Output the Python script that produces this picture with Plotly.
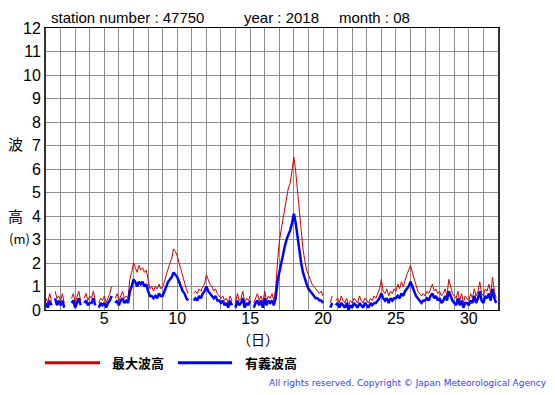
import plotly.graph_objects as go

# 3-hourly readings (00,03,...,21 h) for each day of August 2018
hours = [0, 3, 6, 9, 12, 15, 18, 21]
days = list(range(1, 32))

max_wave = [  # 最大波高 (m)
    [0.5, 0.3, 0.7, 0.4, None, 0.8, 0.5, 0.6],
    [0.4, 0.7, 0.3, None, None, None, 0.5, 0.7],
    [0.3, 0.6, 0.8, 0.4, None, 0.5, 0.7, 0.4],
    [0.6, 0.5, 0.8, 0.4, None, 0.3, 0.5, 0.4],
    [0.6, 0.3, 0.5, 0.7, 1.0, None, 0.5, 0.7],
    [0.4, 0.6, 0.8, 0.5, 0.6, 0.5, 1.3, 1.6],
    [2.0, 1.8, 1.6, 1.9, 1.7, 1.8, 1.6, 1.7],
    [1.2, 0.9, 1.0, 0.8, 1.0, 0.9, 1.1, 0.9],
    [1.0, 1.2, 1.5, 1.8, 2.0, 2.2, 2.6, 2.5],
    [2.3, 2.0, 1.7, 1.4, 1.1, 0.9, 0.7, None],
    [None, 0.7, 0.8, 0.7, 0.9, 0.8, 1.0, 1.1],
    [1.5, 1.3, 1.1, 1.0, 0.8, 0.9, 0.7, 0.6],
    [0.5, 0.6, 0.4, 0.5, 0.3, 0.6, 0.4, None],
    [0.3, 0.7, 0.4, 0.5, 0.8, 0.3, 0.5, 0.4],
    [0.6, None, 0.3, 0.5, 0.7, 0.4, 0.6, 0.3],
    [0.8, 0.4, 0.6, 0.5, 0.7, 0.4, 0.9, 2.0],
    [2.9, 3.4, 3.9, 4.4, 4.8, 5.2, 5.4, 5.9],
    [6.5, 5.9, 5.0, 4.1, 3.4, 2.6, 2.1, 1.7],
    [1.5, 1.3, 1.1, 1.0, 0.9, 0.8, 0.7, 0.8],
    [0.6, None, None, None, 0.3, 0.6, None, 0.4],
    [0.5, 0.3, 0.6, 0.4, 0.3, 0.5, 0.2, 0.4],
    [0.3, 0.5, 0.4, 0.3, 0.6, 0.4, 0.3, 0.5],
    [0.4, 0.3, 0.5, 0.4, 0.6, 0.5, 0.7, 0.9],
    [1.3, 0.8, 0.7, 0.9, 0.6, 0.8, 0.7, 0.9],
    [0.8, 1.1, 0.9, 1.2, 1.0, 1.3, 1.5, 1.7],
    [1.9, 1.6, 1.3, 1.0, 0.8, 0.7, 0.6, 0.7],
    [0.6, 0.8, 0.7, 0.9, 1.1, 0.8, 0.9, 0.7],
    [0.8, 0.6, 0.7, 0.9, 0.6, 1.3, 1.0, 0.7],
    [0.6, 0.5, 0.8, 0.4, 0.7, 0.3, 0.6, 0.5],
    [0.4, 0.7, 0.5, 0.9, 0.6, 0.8, 1.2, 0.7],
    [0.6, 0.9, 0.8, 1.1, 0.7, 1.4, 0.8, 0.5],
]

sig_wave = [  # 有義波高 (m)
    [0.3, 0.1, 0.4, 0.2, None, 0.5, 0.2, 0.4],
    [0.2, 0.4, 0.1, None, None, None, 0.3, 0.4],
    [0.1, 0.3, 0.5, 0.2, None, 0.3, 0.4, 0.2],
    [0.3, 0.3, 0.5, 0.2, None, 0.1, 0.3, 0.2],
    [0.3, 0.1, 0.3, 0.4, 0.6, None, 0.3, 0.4],
    [0.2, 0.4, 0.5, 0.3, 0.4, 0.3, 0.8, 1.0],
    [1.3, 1.2, 1.0, 1.2, 1.1, 1.2, 1.0, 1.1],
    [0.8, 0.6, 0.6, 0.5, 0.6, 0.5, 0.7, 0.6],
    [0.6, 0.8, 1.0, 1.2, 1.3, 1.4, 1.6, 1.5],
    [1.4, 1.2, 1.0, 0.8, 0.7, 0.5, 0.4, None],
    [None, 0.4, 0.5, 0.4, 0.6, 0.5, 0.7, 0.8],
    [1.0, 0.8, 0.7, 0.6, 0.5, 0.6, 0.4, 0.4],
    [0.3, 0.4, 0.2, 0.3, 0.1, 0.4, 0.2, None],
    [0.1, 0.4, 0.2, 0.3, 0.5, 0.1, 0.3, 0.2],
    [0.4, None, 0.1, 0.3, 0.4, 0.2, 0.4, 0.1],
    [0.5, 0.2, 0.4, 0.3, 0.4, 0.2, 0.5, 1.2],
    [1.6, 2.0, 2.4, 2.7, 3.0, 3.2, 3.4, 3.7],
    [4.1, 3.7, 3.1, 2.5, 2.0, 1.6, 1.3, 1.1],
    [0.9, 0.8, 0.7, 0.6, 0.5, 0.5, 0.4, 0.4],
    [0.3, None, None, None, 0.1, 0.3, None, 0.2],
    [0.3, 0.1, 0.3, 0.2, 0.1, 0.3, 0.0, 0.2],
    [0.1, 0.3, 0.2, 0.1, 0.3, 0.2, 0.1, 0.3],
    [0.2, 0.1, 0.3, 0.2, 0.3, 0.3, 0.4, 0.5],
    [0.7, 0.5, 0.4, 0.5, 0.3, 0.5, 0.4, 0.5],
    [0.5, 0.6, 0.5, 0.7, 0.6, 0.8, 0.9, 1.0],
    [1.2, 1.0, 0.8, 0.6, 0.5, 0.4, 0.3, 0.4],
    [0.4, 0.5, 0.4, 0.6, 0.7, 0.5, 0.6, 0.4],
    [0.5, 0.3, 0.4, 0.6, 0.4, 0.8, 0.6, 0.4],
    [0.3, 0.2, 0.5, 0.2, 0.4, 0.1, 0.3, 0.3],
    [0.2, 0.4, 0.3, 0.6, 0.3, 0.5, 0.8, 0.4],
    [0.3, 0.6, 0.5, 0.7, 0.4, 0.9, 0.5, 0.3],
]

x_ticks = [5, 10, 15, 20, 25, 30]
y_ticks = list(range(0, 13))

times = [d + h / 24 for d in days for h in hours]
red = [v for row in max_wave for v in row]
blue = [v for row in sig_wave for v in row]

fig = go.Figure()
fig.add_trace(go.Scatter(x=times, y=red, mode="lines", line=dict(color="#d00000", width=1),
                         connectgaps=False, showlegend=False, hoverinfo="skip"))
fig.add_trace(go.Scatter(x=times, y=blue, mode="lines", line=dict(color="#0000ff", width=2.5),
                         connectgaps=False, showlegend=False, hoverinfo="skip"))

font_lat = "Liberation Sans, Arial, sans-serif"
font_cjk = "Noto Sans CJK JP, sans-serif"

# page body has an 8px margin; figure is sized so the plot area lands at x 46-498, y 26-310
OFF = 8
fig.update_layout(
    width=555 - OFF, height=395 - OFF,
    margin=dict(l=46 - OFF, r=57, t=26 - OFF, b=85),
    paper_bgcolor="white", plot_bgcolor="white",
    font=dict(family=font_lat, size=16, color="black"),
    xaxis=dict(range=[1, 32], tickvals=x_ticks, ticks="", showgrid=True, gridcolor="#8c8c8c", gridwidth=1,
               minor=dict(tick0=1, dtick=1, showgrid=True, gridcolor="#8c8c8c", gridwidth=1),
               showline=True, linecolor="black", linewidth=1, mirror=True, zeroline=False,
               tickfont=dict(size=16), ticklabelstandoff=-6),
    yaxis=dict(range=[0, 12], tickvals=y_ticks, ticks="", showgrid=True, gridcolor="#8c8c8c", gridwidth=1,
               showline=True, linecolor="#333333", linewidth=2, mirror=True, zeroline=False,
               tickfont=dict(size=16)),
)

ann = []
def add_text(text, x, y, xanchor="left", size=16, family=font_lat, color="black"):
    ann.append(dict(text=text, x=x, y=y, xref="paper", yref="paper", xanchor=xanchor, yanchor="middle",
                    showarrow=False, font=dict(size=size, family=family, color=color)))

def px(xpix):
    return (xpix - 46) / 452
def py(ypix):
    return (310 - ypix) / 284

add_text("station number : 47750", px(49), py(15), size=15)
add_text("year : 2018", px(242), py(15), size=15)
add_text("month : 08", px(337), py(15), size=15)
add_text("波", px(16), py(142), xanchor="center", size=15, family=font_cjk)
add_text("高", px(16), py(215), xanchor="center", size=15, family=font_cjk)
add_text("(m)", px(7), py(238), xanchor="left", size=13, family=font_cjk)
add_text("（日）", px(258), py(339), xanchor="center", size=14, family=font_cjk)
add_text("<b>最大波高</b>", px(110), py(363), size=13, family=font_cjk)
add_text("<b>有義波高</b>", px(243), py(363), size=13, family=font_cjk)
add_text("All rights reserved. Copyright © Japan Meteorological Agency", px(549), py(384),
         xanchor="right", size=9, family="DejaVu Sans, sans-serif", color="#3c3cdc")
fig.update_layout(annotations=ann)

fig.add_shape(type="line", xref="paper", yref="paper", x0=px(45), x1=px(100), y0=py(363), y1=py(363),
              line=dict(color="#d00000", width=3))
fig.add_shape(type="line", xref="paper", yref="paper", x0=px(178), x1=px(232), y0=py(363), y1=py(363),
              line=dict(color="#0000ff", width=3))

fig.write_html("out.html")
